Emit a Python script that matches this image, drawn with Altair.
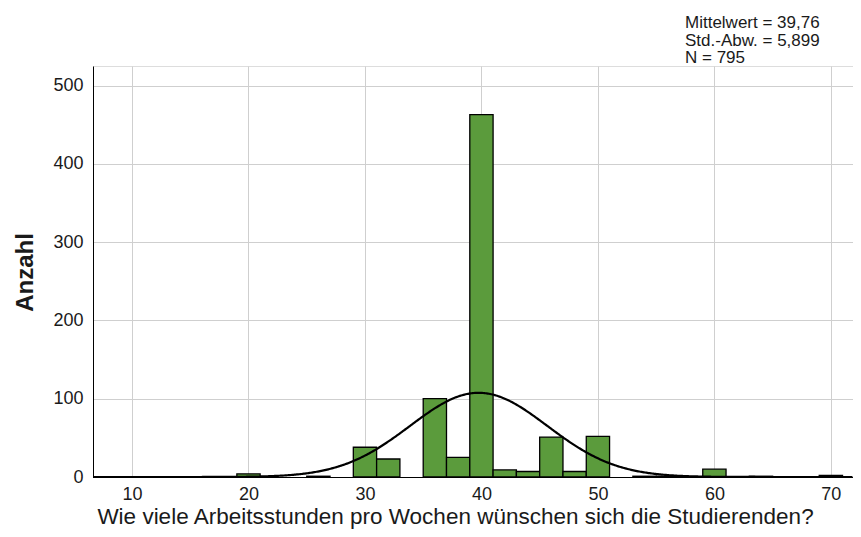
import altair as alt
import pandas as pd

# Histogram bins (width 2 hours): start of each bin and its count
bin_start = [19, 25, 29, 31, 35, 37, 39, 41, 43, 45, 47, 49, 53, 55, 59, 63, 69]
counts = [4, 1, 38, 23, 100, 25, 463, 9, 7, 51, 7, 52, 1, 1, 10, 1, 2]
bin_width = 2

# Summary statistics shown on the chart
mean_val = 39.76
sd_val = 5.899
n_val = 795
stats_lines = ["Mittelwert = 39,76", "Std.-Abw. = 5,899", "N = 795"]

x_ticks = [10, 20, 30, 40, 50, 60, 70]
y_ticks = [0, 100, 200, 300, 400, 500]
x_domain = [6.65, 71.9]
y_domain = [0, 525]

FONT = "Liberation Sans"
TXT = "#1a1a1a"

df = pd.DataFrame({"start": bin_start, "count": counts})
df["end"] = df["start"] + bin_width

xs = alt.Scale(domain=x_domain, nice=False, zero=False, padding=0)
ys = alt.Scale(domain=y_domain, nice=False, padding=0)

x_axis = alt.Axis(
    values=x_ticks, grid=True, gridColor="#cfcfcf", gridWidth=1,
    ticks=False, domainColor="black", domainWidth=1,
    labelFontSize=18, labelFont=FONT, labelColor=TXT, labelPadding=8,
    title="Wie viele Arbeitsstunden pro Wochen wünschen sich die Studierenden?",
    titleFont=FONT, titleFontSize=22.5, titleFontWeight="normal", titleColor=TXT,
    titleX=362, titleY=46, titleBaseline="alphabetic", titleAlign="center",
)
y_axis = alt.Axis(
    values=y_ticks, grid=True, gridColor="#cfcfcf", gridWidth=1,
    ticks=False, domainColor="black", domainWidth=1,
    labelFontSize=18, labelFont=FONT, labelColor=TXT, labelPadding=10,
    title="Anzahl", titleFont=FONT, titleFontSize=24, titleFontWeight="bold",
    titleColor=TXT, titleX=-61, titleY=206, titleAngle=270,
    titleBaseline="alphabetic", titleAlign="center",
)

bars = alt.Chart(df).mark_bar(
    color="#5b9b3c", stroke="black", strokeWidth=1.3
).encode(
    x=alt.X("start:Q", scale=xs, axis=x_axis),
    x2="end:Q",
    y=alt.Y("count:Q", scale=ys, axis=y_axis),
    y2=alt.datum(0),
)

curve = alt.Chart(
    alt.sequence(start=x_domain[0], stop=x_domain[1], step=0.1, as_="h")
).transform_calculate(
    dens=f"{n_val}*{bin_width}/({sd_val}*sqrt(2*PI))*exp(-0.5*pow((datum.h-{mean_val})/{sd_val},2))"
).mark_line(color="black", strokeWidth=2.2).encode(
    x=alt.X("h:Q", scale=xs),
    y=alt.Y("dens:Q", scale=ys),
)

stats = alt.Chart(pd.DataFrame({"t": ["\n".join(stats_lines)]})).mark_text(
    align="left", baseline="alphabetic", font=FONT, fontSize=17,
    lineBreak="\n", lineHeight=17.5, color=TXT,
).encode(
    text="t:N", x=alt.value(592), y=alt.value(-38),
)

chart = alt.layer(bars, curve, stats).properties(
    width=760, height=411,
    autosize=alt.AutoSizeParams(type="none"),
    padding={"left": 85, "top": 58, "right": 0, "bottom": 52},
).configure_view(stroke=None).configure(background="white")

chart.save("out.html", embed_options={"renderer": "svg", "actions": False})
